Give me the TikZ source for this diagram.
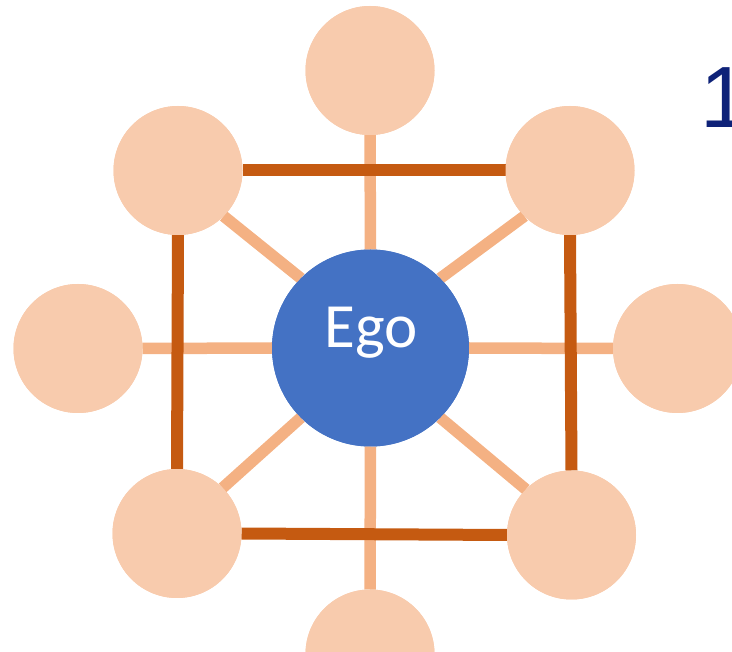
\documentclass[tikz,border=0pt]{standalone}
\usepackage{fontspec}
\newfontfamily\egofont{Carlito}
\newfontfamily\numfont{Liberation Sans}
\definecolor{alterfill}{RGB}{248,203,173}
\definecolor{lightedge}{RGB}{244,177,131}
\definecolor{darkedge}{RGB}{197,90,17}
\definecolor{egoblue}{RGB}{68,114,196}
\definecolor{navy}{RGB}{14,34,120}
\begin{document}
\begin{tikzpicture}[x=1pt,y=-1pt,
  alter/.style={circle,fill=alterfill,draw=none,minimum size=129pt,inner sep=0pt,outer sep=0pt},
  egonode/.style={circle,fill=egoblue,draw=none,minimum size=197pt,inner sep=0pt,outer sep=0pt},
  tie/.style={line width=11.5pt,draw=lightedge},
  strongtie/.style={line width=12pt,draw=darkedge}]
\useasboundingbox (0,0) rectangle (732,652);
\clip (0,0) rectangle (732,652);
% node positions (drawn later on top)
\path
  (370.5,348) coordinate (egoc)
  (370,70.5) coordinate (pt)
  (178,170.5) coordinate (ptl)
  (570,170.5) coordinate (ptr)
  (78,348.5) coordinate (pl)
  (677.5,348.5) coordinate (pr)
  (177,533.5) coordinate (pbl)
  (571.5,535) coordinate (pbr)
  (370,654) coordinate (pb);
\path
  node[egonode] (ego) at (egoc) {}
  node[alter] (t) at (pt) {}
  node[alter] (tl) at (ptl) {}
  node[alter] (tr) at (ptr) {}
  node[alter] (l) at (pl) {}
  node[alter] (r) at (pr) {}
  node[alter] (bl) at (pbl) {}
  node[alter] (br) at (pbr) {}
  node[alter] (b) at (pb) {};
% light ties from ego
\draw[tie] (ego.north) -- (t.south);
\draw[tie] (ego.south) -- (b.north);
\draw[tie] (ego.west) -- (l.east);
\draw[tie] (ego.east) -- (r.west);
\draw[tie] (ego.north west) -- (tl.south east);
\draw[tie] (ego.north east) -- (tr.south west);
\draw[tie] (ego.south west) -- (bl.north east);
\draw[tie] (ego.south east) -- (br.north west);
% strong ties between alters
\draw[strongtie] (tl.east) -- (tr.west);
\draw[strongtie] (bl.east) -- (br.west);
\draw[strongtie] (tl.south) -- (bl.north);
\draw[strongtie] (tr.south) -- (br.north);
% redraw circles on top
\path
  node[egonode] at (egoc) {}
  node[alter] at (pt) {}
  node[alter] at (ptl) {}
  node[alter] at (ptr) {}
  node[alter] at (pl) {}
  node[alter] at (pr) {}
  node[alter] at (pbl) {}
  node[alter] at (pbr) {}
  node[alter] at (pb) {};
\node[anchor=base,inner sep=0pt,text=white,font=\egofont\fontsize{63pt}{63pt}\selectfont] (egolabel) at (371,348) {Ego};
\node[anchor=base west,inner sep=0pt,text=navy,font=\numfont\fontsize{87pt}{87pt}\selectfont] (one) at (700,128) {1};
\end{tikzpicture}
\end{document}
